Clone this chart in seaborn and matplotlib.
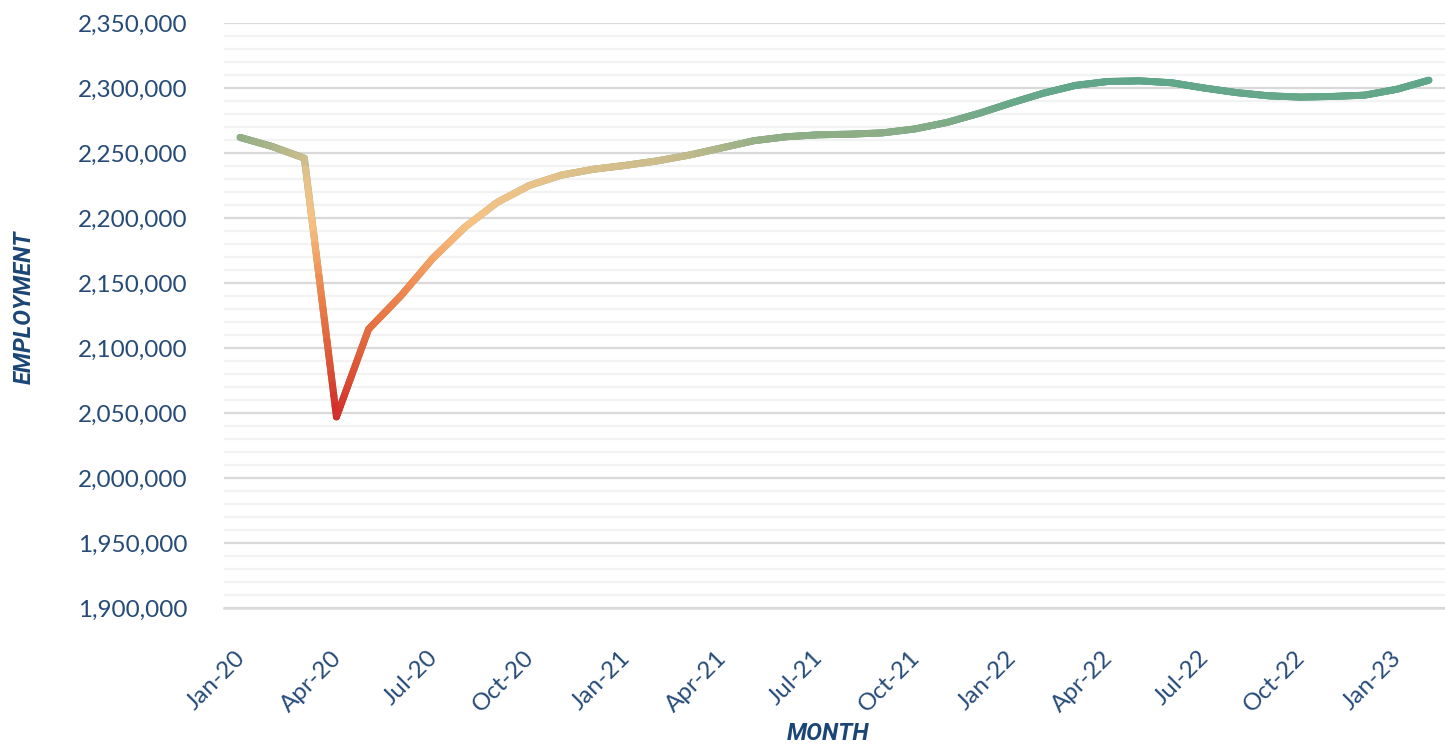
import numpy as np
import pandas as pd
import matplotlib
matplotlib.use("Agg")
import matplotlib.pyplot as plt
import matplotlib.transforms as mtransforms
import seaborn as sns
from matplotlib.collections import LineCollection
from matplotlib.colors import LinearSegmentedColormap, Normalize
from matplotlib.ticker import FuncFormatter, MultipleLocator

# monthly employment, Jan-20 .. Feb-23
months = ["Jan-20", "Feb-20", "Mar-20", "Apr-20", "May-20", "Jun-20", "Jul-20", "Aug-20",
          "Sep-20", "Oct-20", "Nov-20", "Dec-20", "Jan-21", "Feb-21", "Mar-21", "Apr-21",
          "May-21", "Jun-21", "Jul-21", "Aug-21", "Sep-21", "Oct-21", "Nov-21", "Dec-21",
          "Jan-22", "Feb-22", "Mar-22", "Apr-22", "May-22", "Jun-22", "Jul-22", "Aug-22",
          "Sep-22", "Oct-22", "Nov-22", "Dec-22", "Jan-23", "Feb-23"]
employment = [2262000, 2255000, 2246000, 2047000, 2114500, 2140000, 2169000, 2193000,
              2212000, 2225000, 2233000, 2237500, 2240500, 2244000, 2248500, 2254000,
              2259500, 2262500, 2264000, 2264500, 2265500, 2268500, 2273500, 2280500,
              2288500, 2296000, 2302000, 2305000, 2305500, 2304000, 2300000, 2296500,
              2294000, 2293000, 2293500, 2294500, 2299000, 2306000]

df = pd.DataFrame({"month": months, "employment": employment})
df["pos"] = range(len(df))

sns.set_style("white")
plt.rcParams["font.family"] = ["Lato", "DejaVu Sans"]

tick_col = "#264b78"
title_col = "#1b4575"
title_font = ["Liberation Sans Narrow", "Roboto", "DejaVu Sans"]

fig = plt.figure(figsize=(14.45, 7.48), dpi=100)
ax = fig.add_axes([224 / 1445, 140 / 748, 1 - 224 / 1445, 585 / 748])

# base line through seaborn, then gradient on top coloured by value
sns.lineplot(data=df, x="pos", y="employment", ax=ax, color="#5fa68a",
             linewidth=5, solid_capstyle="round", zorder=2)

cmap = LinearSegmentedColormap.from_list("emp", [
    (0.0, "#d42a2a"),
    (0.20, "#e0603a"),
    (0.39, "#f08a50"),
    (0.57, "#f8c282"),
    (0.70, "#e6c28a"),
    (0.76, "#c9bc8c"),
    (0.82, "#90ae86"),
    (0.92, "#6aa88a"),
    (1.0, "#5fa68a"),
])
norm = Normalize(2045000, 2310000)

x = df["pos"].to_numpy(float)
y = df["employment"].to_numpy(float)
segs, vals = [], []
for i in range(len(x) - 1):
    t = np.linspace(0, 1, 25)
    xs = x[i] + (x[i + 1] - x[i]) * t
    ys = y[i] + (y[i + 1] - y[i]) * t
    for j in range(len(t) - 1):
        segs.append([(xs[j], ys[j]), (xs[j + 1], ys[j + 1])])
        vals.append((ys[j] + ys[j + 1]) / 2)
lc = LineCollection(segs, cmap=cmap, norm=norm, linewidths=5,
                    capstyle="round", joinstyle="round", zorder=3)
lc.set_array(np.array(vals))
ax.add_collection(lc)

ax.set_ylim(1900000, 2350000)
ax.set_xlim(-0.5, -0.5 + 1221 / 32.4)

ax.yaxis.set_major_locator(MultipleLocator(50000))
ax.yaxis.set_minor_locator(MultipleLocator(10000))
ax.yaxis.set_major_formatter(FuncFormatter(lambda v, p: f"{v:,.0f}"))
ax.grid(which="major", axis="y", color="#d9d9d9", linewidth=1.6, zorder=0)
ax.grid(which="minor", axis="y", color="#f2f2f2", linewidth=1.6, zorder=0)
ax.grid(False, axis="x")
ax.set_axisbelow(True)

for s in ["left", "right", "top"]:
    ax.spines[s].set_visible(False)
ax.spines["bottom"].set_color("#d9d9d9")
ax.spines["bottom"].set_linewidth(1.8)

ax.tick_params(axis="y", which="both", length=0, pad=26, labelsize=17.5, labelcolor=tick_col)

# category boundary tick marks, labels every quarter
ax.set_xticks(np.arange(-0.5, len(df) + 0.5, 1), minor=True)
ax.set_xticks(df["pos"][::3])
ax.set_xticklabels(df["month"][::3], rotation=45, ha="right", va="top",
                   rotation_mode="anchor", fontsize=17.5, color=tick_col)
ax.tick_params(axis="x", which="minor", length=8, width=1.8, color="#d9d9d9", direction="out")
ax.tick_params(axis="x", which="major", length=0, pad=28)
shift = mtransforms.ScaledTranslation(-6 / 100, 0, fig.dpi_scale_trans)
for lab in ax.get_xticklabels():
    lab.set_transform(lab.get_transform() + shift)

ax.set_xlabel("MONTH", fontsize=17, fontweight="bold", fontstyle="italic",
              color=title_col, family=title_font, va="center")
ax.xaxis.set_label_coords((828 - 224) / 1221, -(733 - 608) / 585)
ax.set_ylabel("EMPLOYMENT", fontsize=17, fontweight="bold", fontstyle="italic",
              color=title_col, family=title_font, va="center")
ax.yaxis.set_label_coords(-(224 - 24) / 1221, (608 - 307) / 585)

fig.savefig("out.png", dpi=100)
